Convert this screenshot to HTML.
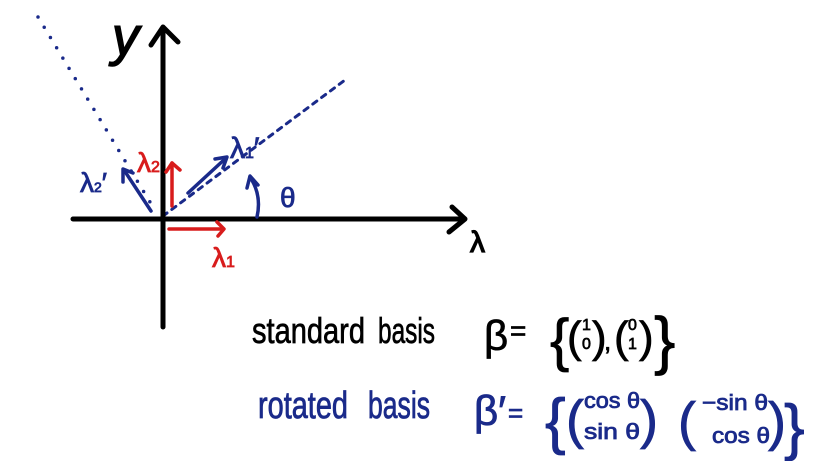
<!DOCTYPE html>
<html><head><meta charset="utf-8"><style>
html,body{margin:0;padding:0;background:#fff;}
svg{display:block}
text{font-family:"Liberation Sans",sans-serif;}
</style></head><body>
<svg width="820" height="461" viewBox="0 0 820 461" xmlns="http://www.w3.org/2000/svg">
<rect width="820" height="461" fill="#fff"/>
<line x1="38" y1="17" x2="156" y2="212" stroke="#1a2a8a" stroke-width="3.5" stroke-dasharray="0 12" stroke-linecap="round"/>
<line x1="163" y1="216" x2="345" y2="80" stroke="#1a2a8a" stroke-width="3" stroke-dasharray="5 6" stroke-linecap="round"/>
<g stroke="#000" stroke-width="5" stroke-linecap="round" fill="none" stroke-linejoin="round">
<line x1="163" y1="28" x2="163" y2="327"/>
<polyline points="151,45 163,27 178,42"/>
<line x1="73" y1="219" x2="464" y2="219"/>
<polyline points="452,207 465,219 449,232"/>
</g>
<text x="112" y="55" font-size="54" font-style="italic" fill="#000" stroke="#000" stroke-width="1.5">y</text>
<text x="470" y="252" font-size="30" fill="#000" stroke="#000" stroke-width="1.2">λ</text>
<g stroke="#d81c1c" stroke-width="3.5" fill="none" stroke-linecap="round" stroke-linejoin="round">
<line x1="169" y1="229" x2="223" y2="229"/>
<polyline points="217,222 224,229 218,236"/>
<line x1="172" y1="206" x2="172" y2="163"/>
<polyline points="166,172 172,163 180,170"/>
</g>
<text x="212" y="267" font-size="28" fill="#d81c1c" stroke="#d81c1c" stroke-width="0.8">λ<tspan font-size="16">1</tspan></text>
<text x="137" y="172" font-size="28" fill="#d81c1c" stroke="#d81c1c" stroke-width="0.8">λ<tspan font-size="16">2</tspan></text>
<g stroke="#1a2a8a" stroke-width="3.5" fill="none" stroke-linecap="round" stroke-linejoin="round">
<line x1="188" y1="193" x2="226" y2="158"/>
<polyline points="215,159 227,157 223,168"/>
<line x1="151" y1="211" x2="124" y2="170"/>
<polyline points="123,182 123,169 133,173"/>
<path d="M257,217 Q262,195 250,177"/>
<polyline points="247,188 250,176 258,185"/>
</g>
<text x="230" y="158" font-size="30" fill="#1a2a8a" stroke="#1a2a8a" stroke-width="0.8">λ<tspan font-size="16">1</tspan>′</text>
<text x="80" y="192" font-size="28" fill="#1a2a8a" stroke="#1a2a8a" stroke-width="0.8">λ<tspan font-size="14">2</tspan>′</text>
<text x="280" y="207" font-size="28" fill="#1a2a8a" stroke="#1a2a8a" stroke-width="0.8">θ</text>
<g fill="#000" stroke="#000" stroke-width="0.7">
<text x="252" y="343" font-size="36" textLength="113" lengthAdjust="spacingAndGlyphs">standard</text>
<text x="378" y="343" font-size="36" textLength="57" lengthAdjust="spacingAndGlyphs">basis</text>
<text x="484" y="350" font-size="42">β</text>
<text x="510" y="340" font-size="28">=</text>
<text x="550" y="360" font-size="58">{</text>
<text x="567" y="352" font-size="44">(</text>
<text x="582" y="330" font-size="16">1</text>
<text x="582" y="349" font-size="16">0</text>
<text x="592" y="352" font-size="44">)</text>
<text x="604" y="350" font-size="26">,</text>
<text x="614" y="352" font-size="44">(</text>
<text x="628" y="330" font-size="16">0</text>
<text x="628" y="349" font-size="16">1</text>
<text x="639" y="352" font-size="44">)</text>
<text x="654" y="362" font-size="64">}</text>
</g>
<g fill="#1a2a8a" stroke="#1a2a8a" stroke-width="0.8">
<text x="258" y="418" font-size="38" textLength="90" lengthAdjust="spacingAndGlyphs">rotated</text>
<text x="368" y="418" font-size="38" textLength="62" lengthAdjust="spacingAndGlyphs">basis</text>
<text x="474" y="425" font-size="42">β′</text>
<text x="508" y="422" font-size="26">=</text>
<text x="545" y="442" font-size="62">{</text>
<text x="566" y="438" font-size="54">(</text>
<text x="584" y="408" font-size="22" textLength="56" lengthAdjust="spacingAndGlyphs">cos θ</text>
<text x="584" y="439" font-size="22" textLength="56" lengthAdjust="spacingAndGlyphs">sin θ</text>
<text x="640" y="438" font-size="54">)</text>
<text x="678" y="440" font-size="54">(</text>
<text x="702" y="410" font-size="22" textLength="66" lengthAdjust="spacingAndGlyphs">−sin θ</text>
<text x="712" y="443" font-size="22" textLength="58" lengthAdjust="spacingAndGlyphs">cos θ</text>
<text x="768" y="440" font-size="54">)</text>
<text x="784" y="448" font-size="62">}</text>
</g>
</svg>
</body></html>
